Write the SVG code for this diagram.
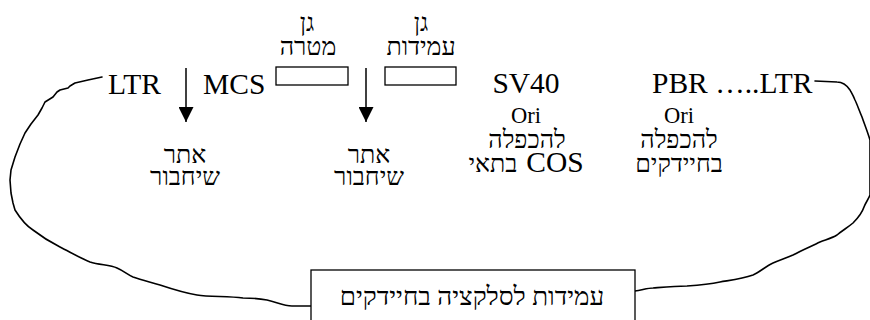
<svg xmlns="http://www.w3.org/2000/svg" width="870" height="320" viewBox="0 0 870 320">
  <defs>
    <marker id="arrowhead" viewBox="0 0 10 10" refX="10" refY="5" markerWidth="15" markerHeight="15" markerUnits="userSpaceOnUse" orient="auto">
      <path d="M0,0 L10,5 L0,10 z" fill="#000"/>
    </marker>
    <style>
      .lat { font-family: "Liberation Serif", "Times New Roman", serif; fill: #000; }
      .big { font-size: 29.5px; }
      .mid { font-size: 22.5px; }
      .heb { font-family: "Liberation Serif", "Times New Roman", serif; font-size: 25px; fill: #000; }
      .box { fill: #fff; stroke: #000; stroke-width: 1.3; }
      .wire { fill: none; stroke: #000; stroke-width: 1.6; stroke-linejoin: round; stroke-linecap: round; }
      .arrow { fill: none; stroke: #000; stroke-width: 1.5; marker-end: url(#arrowhead); }
    </style>
  </defs>
  <rect width="870" height="320" fill="#fff"/>

  <!-- plasmid backbone and insertion-site arrows -->
  <g id="connectors">
    <path class="wire" d="M102,77 L88,80 L75,83 L70,86 L68,88 L60,90 L57,92 L53,97 L45,102 L42,108 L38,115 L31,124 L25,133 L20,144 L15,157 L11,170 L10,180 L11,193 L13,203 L15,210 C20,218 25,225 33,230 C42,237 50,242 60,247 C70,252 80,258 90,262 C100,265 110,265 117,268 C124,271 128,275 133,277 C142,280 150,282 160,285 C172,289 185,293 197,295 C210,297 228,296 243,298 C255,298 262,299 267,300 C277,302 283,306 292,306 L312,306"/>
    <path class="wire" d="M635,291 C642,290 648,288 653,288 C665,287 675,286 687,286 C700,285 710,284 720,282 C732,280 742,279 753,275 C760,272 766,266 773,263 C780,260 786,258 793,255 C802,250 812,246 820,242 C828,239 832,238 837,235 C843,230 847,228 853,223 C858,218 862,213 864,207 C866,202 868,200 870,195 L870,140 C867,130 864,123 862,117 C859,110 857,104 855,100 C853,95 851,92 850,90 C846,84 842,82 837,82 L815,81"/>
    <line class="arrow" x1="186" y1="68" x2="186" y2="122"/>
    <line class="arrow" x1="366" y1="68" x2="366" y2="122"/>
  </g>

  <g id="ltr-left">
    <text class="lat big" x="108" y="94">LTR</text>
  </g>
  <g id="mcs">
    <text class="lat big" x="203" y="94">MCS</text>
  </g>

  <g id="site-1">
    <text class="heb" x="185" y="163" text-anchor="middle">אתר</text>
    <text class="heb" x="185" y="185" text-anchor="middle">שיחבור</text>
  </g>

  <g id="target-gene">
    <text class="heb" x="307" y="31" text-anchor="middle">גן</text>
    <text class="heb" x="308" y="55" text-anchor="middle">מטרה</text>
    <rect class="box" x="276" y="67" width="72" height="18"/>
  </g>

  <g id="site-2">
    <text class="heb" x="369" y="163" text-anchor="middle">אתר</text>
    <text class="heb" x="369" y="185" text-anchor="middle">שיחבור</text>
  </g>

  <g id="resistance-gene">
    <text class="heb" x="421" y="31" text-anchor="middle">גן</text>
    <text class="heb" x="421" y="55" text-anchor="middle">עמידות</text>
    <rect class="box" x="385" y="67" width="71" height="18"/>
  </g>

  <g id="sv40">
    <text class="lat big" x="526" y="93" text-anchor="middle">SV40</text>
    <text class="lat mid" x="526" y="123" text-anchor="middle">Ori</text>
    <text class="heb" x="527" y="148" text-anchor="middle">להכפלה</text>
    <text class="heb" x="493" y="172" text-anchor="middle">בתאי</text>
    <text class="lat big" x="555" y="172" text-anchor="middle">COS</text>
  </g>

  <g id="pbr">
    <text class="lat big" x="652" y="93">PBR …..LTR</text>
    <text class="lat mid" x="679" y="123" text-anchor="middle">Ori</text>
    <text class="heb" x="679" y="148" text-anchor="middle">להכפלה</text>
    <text class="heb" x="679" y="172" text-anchor="middle">בחיידקים</text>
  </g>

  <g id="selection">
    <rect class="box" x="311" y="270" width="324" height="60"/>
    <text class="heb" x="472" y="305" text-anchor="middle" style="font-size:26px">עמידות לסלקציה בחיידקים</text>
  </g>
</svg>
